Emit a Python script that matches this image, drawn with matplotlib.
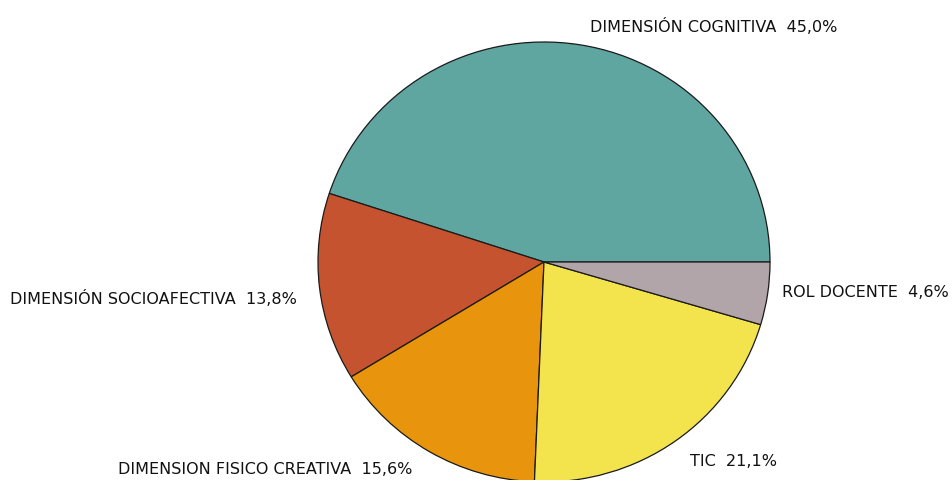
import matplotlib.pyplot as plt

labels = ["DIMENSIÓN COGNITIVA", "DIMENSIÓN SOCIOAFECTIVA", "DIMENSION FISICO CREATIVA",
          "TIC", "ROL DOCENTE"]
values = [45.0, 13.8, 15.6, 21.1, 4.6]
colors = ["#5fa6a1", "#c5532f", "#e8950d", "#f3e34c", "#b1a5a9"]

W, H = 953, 481
fig = plt.figure(figsize=(W / 100, H / 100), dpi=100)
ax = fig.add_axes([0, 0, 1, 1])

# pie is slightly squashed vertically in the original
rx, ry = 226, 220
sy = rx / ry
cx, cy = 544, 263

ax.pie(values, colors=colors, startangle=0, counterclock=True,
       center=(cx, (H - cy) * sy), radius=rx,
       wedgeprops=dict(edgecolor="#1a1a1a", linewidth=0.9), frame=True)
ax.set_aspect("auto")
ax.set_xlim(0, W)
ax.set_ylim(0, H * sy)
ax.axis("off")

# label positions (pixels, left x, center y)
pos = [(590, 27), (10, 299), (118, 470), (690, 462), (782, 293)]
for (x, y), lab, v in zip(pos, labels, values):
    txt = "%s  %s%%" % (lab, ("%.1f" % v).replace(".", ","))
    fig.text(x / W, 1 - y / H, txt, fontsize=11.5, color="#111111",
             ha="left", va="center", family="DejaVu Sans")

fig.savefig("out.png", dpi=100)
